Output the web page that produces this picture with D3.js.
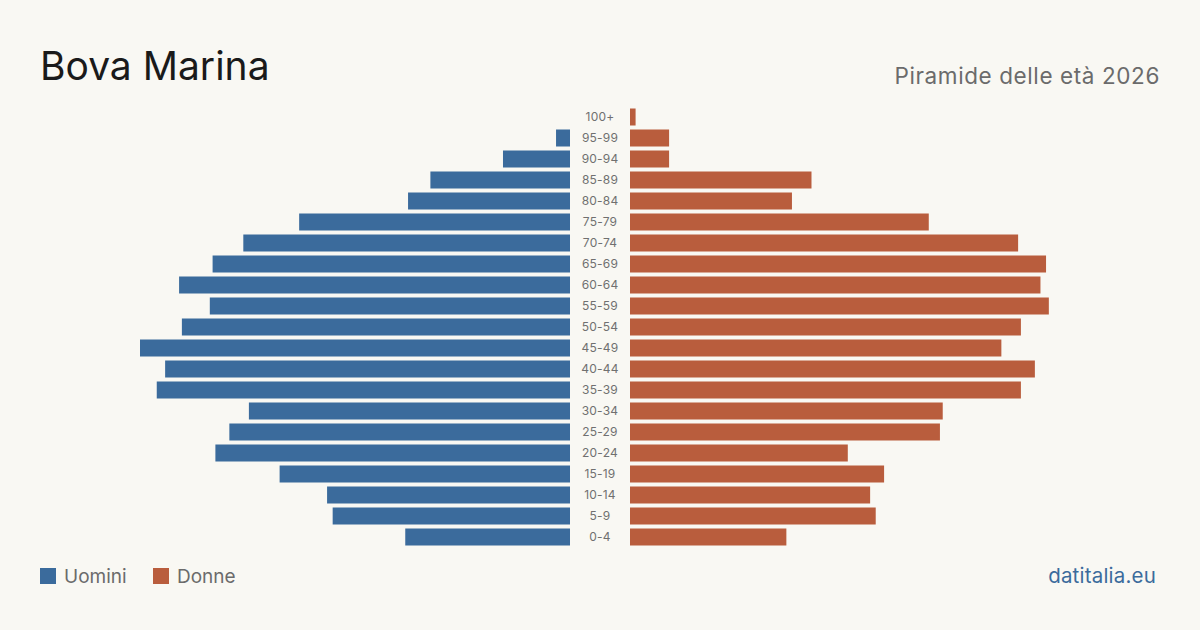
<!DOCTYPE html>
<html><head><meta charset="utf-8">
<script src="https://cdn.jsdelivr.net/npm/d3@7"></script>
<style>
html,body{margin:0;padding:0;background:#f9f8f3;}
svg{display:block;font-family:Inter,"Liberation Sans",sans-serif;}
</style></head>
<body><svg id="c" width="1200" height="630"></svg>
<script>
const ageGroups = ["100+","95-99","90-94","85-89","80-84","75-79","70-74","65-69","60-64","55-59","50-54","45-49","40-44","35-39","30-34","25-29","20-24","15-19","10-14","5-9","0-4"];
const maleValues = [0,5,24,50,58,97,117,128,140,129,139,154,145,148,115,122,127,104,87,85,59];
const femaleValues = [2,14,14,65,58,107,139,149,147,150,140,133,145,140,112,111,78,91,86,88,56];
const seriesNames = ["Uomini","Donne"];
const colors = {male:"#3b6b9c", female:"#b95d3d"};
const title = "Bova Marina";
const subtitle = "Piramide delle età 2026";
const source = "datitalia.eu";

const svg = d3.select("#c");
svg.append("rect").attr("width",1200).attr("height",630).attr("fill","#f9f8f3");

const maxVal = d3.max([...maleValues,...femaleValues]);
const w = d3.scaleLinear().domain([0,maxVal]).range([0,430]);
const y = d3.scaleBand().domain(ageGroups).range([106.5,547.5]).paddingInner(4/21).paddingOuter(2/21);

const maleRight = 570, femaleLeft = 630;

svg.append("g").selectAll("rect").data(ageGroups).join("rect")
  .attr("x",(d,i)=>maleRight - w(maleValues[i]))
  .attr("y",d=>y(d)).attr("height",y.bandwidth())
  .attr("width",(d,i)=>w(maleValues[i]))
  .attr("fill",colors.male);

svg.append("g").selectAll("rect").data(ageGroups).join("rect")
  .attr("x",femaleLeft)
  .attr("y",d=>y(d)).attr("height",y.bandwidth())
  .attr("width",(d,i)=>w(femaleValues[i]))
  .attr("fill",colors.female);

svg.append("g").selectAll("text").data(ageGroups).join("text")
  .attr("x",600).attr("y",d=>y(d)+y.bandwidth()/2)
  .attr("dy","0.35em").attr("text-anchor","middle")
  .attr("font-size",12).attr("letter-spacing",0.2).attr("fill","#707070")
  .text(d=>d);

svg.append("text").attr("x",40).attr("y",80).attr("font-size",39)
  .attr("fill","#1a1a1a").text(title);
svg.append("text").attr("x",1160).attr("y",84).attr("text-anchor","end")
  .attr("font-size",22.5).attr("letter-spacing",0.6).attr("fill","#6b6b6b").text(subtitle);

const leg = svg.append("g");
const legItems = [{n:seriesNames[0],c:colors.male,x:40},{n:seriesNames[1],c:colors.female,x:153}];
legItems.forEach(it=>{
  leg.append("rect").attr("x",it.x).attr("y",568).attr("width",16).attr("height",16).attr("fill",it.c);
  leg.append("text").attr("x",it.x+24).attr("y",583).attr("font-size",19).attr("fill","#6b6b6b").text(it.n);
});

svg.append("text").attr("x",1156).attr("y",583).attr("text-anchor","end")
  .attr("font-size",20.5).attr("letter-spacing",0.2).attr("fill","#3b6b9c").text(source);
</script>
</body></html>
